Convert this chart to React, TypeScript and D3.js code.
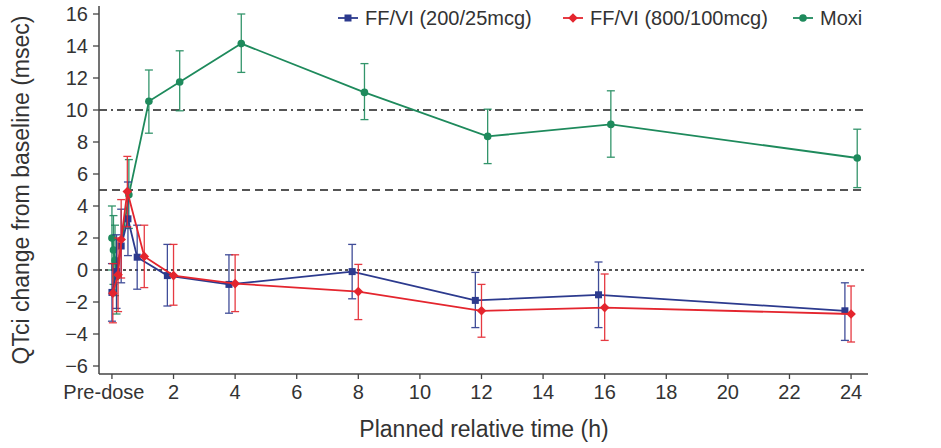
import React from "react";
import * as d3 from "d3";

// Plotted time (h) per series; small per-series offsets keep the error bars apart.
const lowDoseTime = [0, 0.15, 0.3, 0.52, 0.82, 1.8, 3.8, 7.8, 11.8, 15.8, 23.8];
const lowDoseMean = [-1.4, -0.1, 1.5, 3.2, 0.8, -0.35, -0.9, -0.1, -1.9, -1.55, -2.55];
const lowDoseLower = [-3.2, -2.4, -0.8, 0.9, -1.2, -2.25, -2.7, -1.8, -3.6, -3.6, -4.4];
const lowDoseUpper = [0.4, 2.2, 3.8, 5.5, 2.8, 1.6, 0.95, 1.6, -0.15, 0.5, -0.8];

const highDoseTime = [0.03, 0.2, 0.3, 0.5, 1.05, 2.0, 4.0, 8.0, 12.0, 16.0, 24.0];
const highDoseMean = [-1.45, -0.3, 1.9, 4.9, 0.85, -0.35, -0.85, -1.35, -2.55, -2.35, -2.75];
const highDoseLower = [-3.3, -2.6, -0.5, 2.7, -1.1, -2.2, -2.6, -3.1, -4.2, -4.4, -4.5];
const highDoseUpper = [0.4, 2.0, 4.4, 7.1, 2.8, 1.6, 0.95, 0.35, -0.9, -0.25, -1.0];

const moxiTime = [0.0, 0.05, 0.1, 0.15, 0.55, 1.2, 2.2, 4.2, 8.2, 12.2, 16.2, 24.2];
const moxiMean = [2.0, 1.25, 0.6, -0.4, 4.7, 10.55, 11.75, 14.15, 11.1, 8.35, 9.1, 7.0];
const moxiLower = [0.0, -0.9, -1.6, -2.75, 2.6, 8.55, 9.95, 12.35, 9.4, 6.65, 7.05, 5.15];
const moxiUpper = [4.0, 3.4, 2.8, 1.9, 6.9, 12.5, 13.7, 16.0, 12.9, 10.05, 11.2, 8.8];

const xTicks = [0, 2, 4, 6, 8, 10, 12, 14, 16, 18, 20, 22, 24];
const yTicks = [-6, -4, -2, 0, 2, 4, 6, 8, 10, 12, 14, 16];
const referenceLevels = [0, 5, 10];

const seriesNames = ["FF/VI (200/25mcg)", "FF/VI (800/100mcg)", "Moxi"];

const FONT = "'Liberation Sans', Arial, Helvetica, sans-serif";
const TEXT = "#333";
const BLUE = "#2c3a8e";
const RED = "#e4252e";
const GREEN = "#1e8a5c";

type Pt = { t: number; m: number; lo: number; hi: number };

const zip = (t: number[], m: number[], lo: number[], hi: number[]): Pt[] =>
  t.map((tt, i) => ({ t: tt, m: m[i], lo: lo[i], hi: hi[i] }));

const series = [
  { name: seriesNames[2], color: GREEN, shape: "circle", pts: zip(moxiTime, moxiMean, moxiLower, moxiUpper) },
  { name: seriesNames[0], color: BLUE, shape: "square", pts: zip(lowDoseTime, lowDoseMean, lowDoseLower, lowDoseUpper) },
  { name: seriesNames[1], color: RED, shape: "diamond", pts: zip(highDoseTime, highDoseMean, highDoseLower, highDoseUpper) },
];

const x = d3.scaleLinear().domain([-0.42, 24.55]).range([99, 868]);
const y = d3.scaleLinear().domain([-6.5, 16.5]).range([374, 6]);
const fmt = d3.format("d");

function Marker({ shape, cx, cy, color }: { shape: string; cx: number; cy: number; color: string }) {
  if (shape === "square") return <rect x={cx - 3.5} y={cy - 3.5} width={7} height={7} fill={color} />;
  if (shape === "diamond")
    return <path d={`M${cx},${cy - 4.8}L${cx + 4.8},${cy}L${cx},${cy + 4.8}L${cx - 4.8},${cy}Z`} fill={color} />;
  return <circle cx={cx} cy={cy} r={3.8} fill={color} />;
}

export default function App() {
  const line = d3
    .line<Pt>()
    .x((d) => x(d.t))
    .y((d) => y(d.m));

  const refDash: Record<number, string> = { 0: "3,3", 5: "8,5", 10: "8,4,2,4" };

  const legend = [
    { name: seriesNames[0], color: BLUE, shape: "square", x0: 348 },
    { name: seriesNames[1], color: RED, shape: "diamond", x0: 573 },
    { name: seriesNames[2], color: GREEN, shape: "circle", x0: 803 },
  ];

  return (
    <svg
      width={941}
      height={448}
      style={{ position: "absolute", left: 0, top: 0, background: "#fff" }}
      fontFamily={FONT}
    >
      {/* reference levels */}
      {referenceLevels.map((v) => (
        <line
          key={v}
          x1={x.range()[0]}
          x2={x.range()[1] - 2}
          y1={y(v)}
          y2={y(v)}
          stroke="#555"
          strokeWidth={1.8}
          strokeDasharray={refDash[v]}
        />
      ))}

      {/* axes */}
      <line x1={99} x2={99} y1={y.range()[1]} y2={y.range()[0]} stroke="#444" strokeWidth={1.5} />
      <line x1={99} x2={x.range()[1]} y1={374} y2={374} stroke="#444" strokeWidth={1.5} />
      {yTicks.map((v) => (
        <g key={v}>
          <line x1={93} x2={99} y1={y(v)} y2={y(v)} stroke="#444" strokeWidth={1.3} />
          <text x={88} y={y(v)} dy="0.36em" textAnchor="end" fontSize={20} fill={TEXT}>
            {d3.format("")(v).replace("-", "\u2212")}
          </text>
        </g>
      ))}
      {xTicks.map((v) => (
        <g key={v}>
          <line x1={x(v)} x2={x(v)} y1={374} y2={379} stroke="#444" strokeWidth={1.3} />
          <text x={x(v) + (v === 0 ? -8 : 0)} y={399} textAnchor="middle" fontSize={20} fill={TEXT}>
            {v === 0 ? "Pre-dose" : fmt(v)}
          </text>
        </g>
      ))}
      <text x={484} y={437} textAnchor="middle" fontSize={23} fill={TEXT}>
        Planned relative time (h)
      </text>
      <text
        transform="translate(29,190) rotate(-90)"
        textAnchor="middle"
        fontSize={23}
        fill={TEXT}
      >
        QTci change from baseline (msec)
      </text>

      {/* series: error bars, line, markers */}
      {series.map((s) => (
        <g key={s.name}>
          {s.pts.map((p, i) => (
            <g key={i} stroke={s.color} strokeWidth={1.3} opacity={0.9}>
              <line x1={x(p.t)} x2={x(p.t)} y1={y(p.lo)} y2={y(p.hi)} />
              <line x1={x(p.t) - 4} x2={x(p.t) + 4} y1={y(p.lo)} y2={y(p.lo)} />
              <line x1={x(p.t) - 4} x2={x(p.t) + 4} y1={y(p.hi)} y2={y(p.hi)} />
            </g>
          ))}
          <path d={line(s.pts) ?? ""} fill="none" stroke={s.color} strokeWidth={1.8} />
          {s.pts.map((p, i) => (
            <Marker key={i} shape={s.shape} cx={x(p.t)} cy={y(p.m)} color={s.color} />
          ))}
        </g>
      ))}

      {/* legend */}
      {legend.map((l) => (
        <g key={l.name}>
          <line x1={l.x0 - 10} x2={l.x0 + 10} y1={18} y2={18} stroke={l.color} strokeWidth={1.8} />
          <Marker shape={l.shape} cx={l.x0} cy={18} color={l.color} />
          <text x={l.x0 + 17} y={18} dy="0.36em" fontSize={20} fill={TEXT}>
            {l.name}
          </text>
        </g>
      ))}
    </svg>
  );
}
